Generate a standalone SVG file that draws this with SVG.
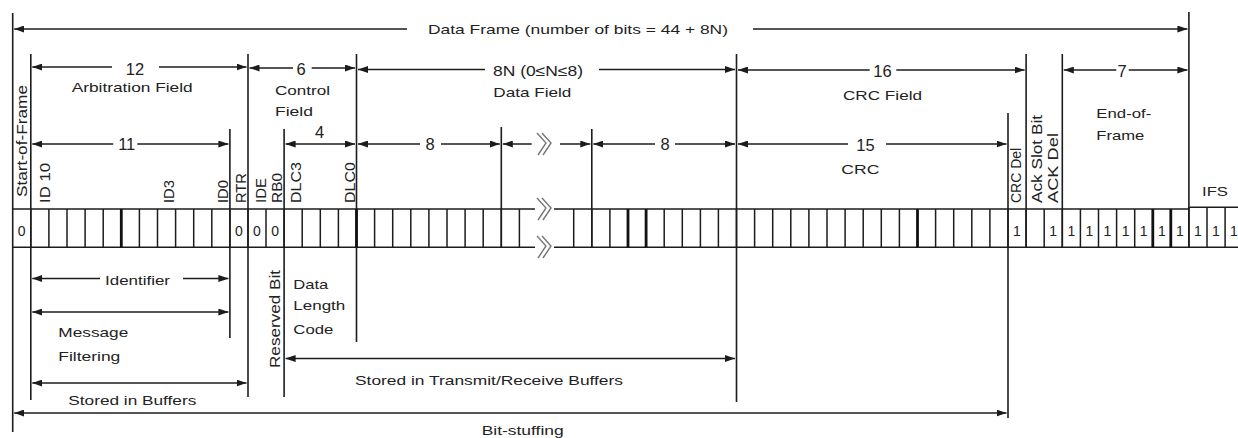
<svg xmlns="http://www.w3.org/2000/svg" width="1238" height="438" viewBox="0 0 1238 438">
<defs>
<style>
.ln{stroke:#1c1c1c;stroke-width:1.6;fill:none}
.bl{stroke:#1c1c1c;stroke-width:1.5}
.bk{stroke:#111;stroke-width:2.8}
.ar{stroke:#1c1c1c;stroke-width:1.5;fill:none}
.s{marker-start:url(#ah)}
.e{marker-end:url(#ah)}
.se{marker-start:url(#ah);marker-end:url(#ah)}
text{font-family:"Liberation Sans",Arial,sans-serif;fill:#222}
.t{font-size:13.5px}
.n{font-size:16.5px;text-anchor:middle}
.v{font-size:14px}
.b{font-size:14px;text-anchor:middle}
.chev{stroke:#777;stroke-width:1.4;fill:none}
</style>
<marker id="ah" markerUnits="userSpaceOnUse" markerWidth="10" markerHeight="7" refX="10" refY="3.5" orient="auto-start-reverse">
<path d="M0,0 L10,3.5 L0,7 z" fill="#1c1c1c"/>
</marker>
</defs>
<rect width="1238" height="438" fill="#fff"/>

<g id="frame-lines">
<line class="ln" x1="12.7" y1="13" x2="12.7" y2="432"/>
<line class="ln" x1="30.8" y1="54" x2="30.8" y2="400"/>
<line class="ln" x1="229.9" y1="129" x2="229.9" y2="338"/>
<line class="ln" x1="248" y1="54" x2="248" y2="397"/>
<line class="ln" x1="284.1" y1="129" x2="284.1" y2="397"/>
<line class="ln" x1="356.5" y1="54" x2="356.5" y2="342"/>
<line class="ln" x1="501.3" y1="127" x2="501.3" y2="247.3"/>
<line class="ln" x1="591.8" y1="129" x2="591.8" y2="247.3"/>
<line class="ln" x1="736.5" y1="54" x2="736.5" y2="402"/>
<line class="ln" x1="1008" y1="113" x2="1008" y2="418"/>
<line class="ln" x1="1026.1" y1="54" x2="1026.1" y2="247.3"/>
<line class="ln" x1="1062.3" y1="54" x2="1062.3" y2="247.3"/>
<line class="ln" x1="1188.9" y1="12" x2="1188.9" y2="247.3"/>
</g>

<g id="bit-row">
<path class="ln" d="M12.7,209 H1188.9 V207.3 H1238 M12.7,247.3 H1238"/>
<path class="bl" d="M30.8,209V247.3 M48.9,209V247.3 M67,209V247.3 M85.1,209V247.3 M103.2,209V247.3 M139.4,209V247.3 M157.5,209V247.3 M175.6,209V247.3 M193.7,209V247.3 M211.8,209V247.3 M229.9,209V247.3 M248,209V247.3 M266,209V247.3 M284.1,209V247.3 M302.2,209V247.3 M320.3,209V247.3 M338.4,209V247.3 M374.6,209V247.3 M392.7,209V247.3 M410.8,209V247.3 M428.9,209V247.3 M447,209V247.3 M465.1,209V247.3 M483.2,209V247.3 M501.3,209V247.3 M519.4,209V247.3 M573.7,209V247.3 M591.8,209V247.3 M609.9,209V247.3 M664.2,209V247.3 M682.3,209V247.3 M700.4,209V247.3 M718.4,209V247.3 M736.5,209V247.3 M754.6,209V247.3 M772.7,209V247.3 M790.8,209V247.3 M808.9,209V247.3 M827,209V247.3 M845.1,209V247.3 M863.2,209V247.3 M881.3,209V247.3 M899.4,209V247.3 M935.6,209V247.3 M953.7,209V247.3 M971.8,209V247.3 M989.9,209V247.3 M1008,209V247.3 M1026.1,209V247.3 M1044.2,209V247.3 M1062.3,209V247.3 M1080.4,209V247.3 M1098.5,209V247.3 M1116.6,209V247.3 M1134.7,209V247.3 M1188.9,209V247.3 M1207,207.3V247.3 M1225.1,207.3V247.3"/>
<path class="bk" d="M121.3,209V247.3 M356.5,209V247.3 M628,209V247.3 M646.1,209V247.3 M917.5,209V247.3 M1152.8,209V247.3 M1170.8,209V247.3"/>
<text class="b" x="21.7" y="235.7">0</text>
<text class="b" x="239" y="235.7">0</text>
<text class="b" x="257" y="235.7">0</text>
<text class="b" x="275.1" y="235.7">0</text>
<text class="b" x="1017" y="235.7">1</text>
<text class="b" x="1053.2" y="235.7">1</text>
<text class="b" x="1071.3" y="235.7">1</text>
<text class="b" x="1089.4" y="235.7">1</text>
<text class="b" x="1107.5" y="235.7">1</text>
<text class="b" x="1125.6" y="235.7">1</text>
<text class="b" x="1143.7" y="235.7">1</text>
<text class="b" x="1161.8" y="235.7">1</text>
<text class="b" x="1179.9" y="235.7">1</text>
<text class="b" x="1198" y="235.7">1</text>
<text class="b" x="1216" y="235.7">1</text>
<text class="b" x="1234" y="235.7">1</text>
</g>

<g id="breaks">
<rect x="535" y="204" width="19" height="9" fill="#fff"/>
<rect x="535" y="243" width="19" height="9" fill="#fff"/>
<path class="chev" d="M537,133 L546,143 L538,155 M542,133 L551,143 L543,155"/>
<path class="chev" d="M537,198 L546,208 L538,220 M542,198 L551,208 L543,220"/>
<path class="chev" d="M537,236 L546,246 L538,258 M542,236 L551,246 L543,258"/>
</g>

<g id="connectors">
<line class="ar s" x1="14.2" y1="29" x2="407" y2="29"/>
<line class="ar e" x1="753" y1="29" x2="1187.4" y2="29"/>

<line class="ar s" x1="32.3" y1="67" x2="112" y2="67"/>
<line class="ar e" x1="159" y1="67" x2="246.5" y2="67"/>
<line class="ar s" x1="249.5" y1="68" x2="293" y2="68"/>
<line class="ar e" x1="311.7" y1="68" x2="355" y2="68"/>
<line class="ar s" x1="358" y1="69.5" x2="485" y2="69.5"/>
<line class="ar e" x1="599" y1="69.5" x2="735" y2="69.5"/>
<line class="ar s" x1="738" y1="70" x2="869.7" y2="70"/>
<line class="ar e" x1="896.3" y1="70" x2="1024.6" y2="70"/>
<line class="ar s" x1="1063.8" y1="70" x2="1116.3" y2="70"/>
<line class="ar e" x1="1128.7" y1="70" x2="1187.4" y2="70"/>

<line class="ar s" x1="32.3" y1="144" x2="113.3" y2="144"/>
<line class="ar e" x1="137.3" y1="144" x2="228.4" y2="144"/>
<line class="ar se" x1="285.6" y1="144" x2="355" y2="144"/>
<line class="ar s" x1="358" y1="144" x2="420" y2="144"/>
<line class="ar e" x1="441" y1="144" x2="499.8" y2="144"/>
<line class="ar s" x1="502.8" y1="144" x2="531.7" y2="144"/>
<line class="ar e" x1="560" y1="144" x2="590.3" y2="144"/>
<line class="ar s" x1="593.3" y1="144" x2="655" y2="144"/>
<line class="ar e" x1="675" y1="144" x2="735" y2="144"/>
<line class="ar s" x1="738" y1="144" x2="848" y2="144"/>
<line class="ar e" x1="886" y1="144" x2="1006.5" y2="144"/>

<line class="ar s" x1="32.3" y1="278.5" x2="100" y2="278.5"/>
<line class="ar e" x1="183" y1="278.5" x2="228.4" y2="278.5"/>
<line class="ar se" x1="32.3" y1="312" x2="228.4" y2="312"/>
<line class="ar se" x1="32.3" y1="383" x2="246.5" y2="383"/>
<line class="ar se" x1="285.6" y1="358.5" x2="735" y2="358.5"/>
<line class="ar se" x1="14.2" y1="413" x2="1006.5" y2="413"/>
</g>

<g id="field-labels">
<text class="t" x="428" y="34" textLength="300" lengthAdjust="spacingAndGlyphs">Data Frame (number of bits = 44 + 8N)</text>
<text class="n" x="135" y="74.5">12</text>
<text class="t" x="71.7" y="92.3" textLength="121" lengthAdjust="spacingAndGlyphs">Arbitration Field</text>
<text class="n" x="301" y="75">6</text>
<text class="t" x="275" y="95" textLength="55" lengthAdjust="spacingAndGlyphs">Control</text>
<text class="t" x="275" y="115.7" textLength="38" lengthAdjust="spacingAndGlyphs">Field</text>
<text class="t" x="493" y="76" textLength="90" lengthAdjust="spacingAndGlyphs" style="font-size:14.5px">8N (0≤N≤8)</text>
<text class="t" x="493.3" y="96.5" textLength="78" lengthAdjust="spacingAndGlyphs">Data Field</text>
<text class="n" x="882.5" y="76.5">16</text>
<text class="t" x="843" y="100" textLength="79" lengthAdjust="spacingAndGlyphs">CRC Field</text>
<text class="n" x="1122" y="77">7</text>
<text class="t" x="1096.3" y="118.3" textLength="55" lengthAdjust="spacingAndGlyphs">End-of-</text>
<text class="t" x="1096.3" y="140" textLength="48" lengthAdjust="spacingAndGlyphs">Frame</text>
<text class="n" x="126.7" y="150">11</text>
<text class="n" x="319.5" y="137.5">4</text>
<text class="n" x="430" y="149.5">8</text>
<text class="n" x="665" y="149.5">8</text>
<text class="n" x="865.5" y="150.5">15</text>
<text class="t" x="841.3" y="174" textLength="38" lengthAdjust="spacingAndGlyphs">CRC</text>
<text class="t" x="1202" y="196" textLength="26" lengthAdjust="spacingAndGlyphs">IFS</text>
</g>

<g id="bit-labels">
<text class="v" transform="translate(26.5,197) rotate(-90)" textLength="112" lengthAdjust="spacingAndGlyphs">Start-of-Frame</text>
<text class="v" transform="translate(49.5,203) rotate(-90)" textLength="40" lengthAdjust="spacingAndGlyphs">ID 10</text>
<text class="v" transform="translate(173.5,203) rotate(-90)" textLength="23" lengthAdjust="spacingAndGlyphs">ID3</text>
<text class="v" transform="translate(228.3,203) rotate(-90)" textLength="23" lengthAdjust="spacingAndGlyphs">ID0</text>
<text class="v" transform="translate(246,203) rotate(-90)" textLength="30" lengthAdjust="spacingAndGlyphs">RTR</text>
<text class="v" transform="translate(266,203) rotate(-90)" textLength="25" lengthAdjust="spacingAndGlyphs">IDE</text>
<text class="v" transform="translate(282,203) rotate(-90)" textLength="30" lengthAdjust="spacingAndGlyphs">RB0</text>
<text class="v" transform="translate(301,203) rotate(-90)" textLength="41" lengthAdjust="spacingAndGlyphs">DLC3</text>
<text class="v" transform="translate(354.5,203) rotate(-90)" textLength="41" lengthAdjust="spacingAndGlyphs">DLC0</text>
<text class="v" transform="translate(1021,203) rotate(-90)">CRC Del</text>
<text class="v" transform="translate(1041.5,203) rotate(-90)" textLength="88" lengthAdjust="spacingAndGlyphs">Ack Slot Bit</text>
<text class="v" transform="translate(1058,203) rotate(-90)" textLength="70" lengthAdjust="spacingAndGlyphs">ACK Del</text>
<text class="v" transform="translate(279.5,368) rotate(-90)" textLength="98" lengthAdjust="spacingAndGlyphs">Reserved Bit</text>
</g>

<g id="bottom-labels">
<text class="t" x="105" y="285" textLength="65" lengthAdjust="spacingAndGlyphs">Identifier</text>
<text class="t" x="58.3" y="337.3" textLength="70" lengthAdjust="spacingAndGlyphs">Message</text>
<text class="t" x="58.3" y="360.7" textLength="62" lengthAdjust="spacingAndGlyphs">Filtering</text>
<text class="t" x="68.3" y="405" textLength="128" lengthAdjust="spacingAndGlyphs">Stored in Buffers</text>
<text class="t" x="293.3" y="289" textLength="35" lengthAdjust="spacingAndGlyphs">Data</text>
<text class="t" x="293.3" y="310" textLength="52" lengthAdjust="spacingAndGlyphs">Length</text>
<text class="t" x="293.3" y="334" textLength="40" lengthAdjust="spacingAndGlyphs">Code</text>
<text class="t" x="355" y="385" textLength="268" lengthAdjust="spacingAndGlyphs">Stored in Transmit/Receive Buffers</text>
<text class="t" x="481.7" y="435" textLength="82" lengthAdjust="spacingAndGlyphs">Bit-stuffing</text>
</g>
</svg>
